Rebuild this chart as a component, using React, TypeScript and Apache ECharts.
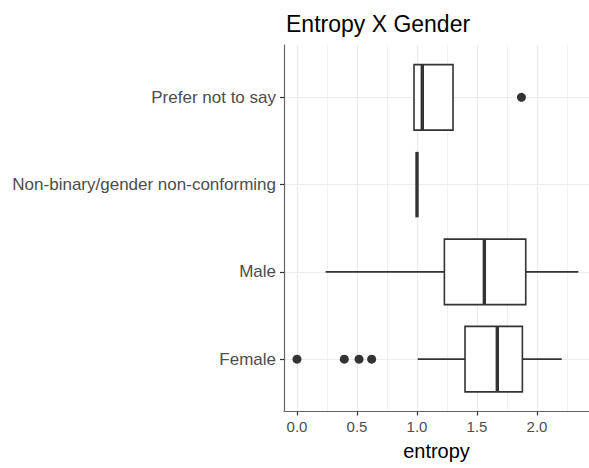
import React, { useEffect, useRef } from "react";
import * as echarts from "echarts";

const categories = [
  "Female",
  "Male",
  "Non-binary/gender non-conforming",
  "Prefer not to say",
];
const whiskerLow = [1.006, 0.239, 1.0, 0.975];
const q1 = [1.4, 1.228, 1.0, 0.975];
const median = [1.669, 1.561, 1.0, 1.044];
const q3 = [1.878, 1.906, 1.0, 1.3];
const whiskerHigh = [2.206, 2.344, 1.0, 1.3];
const outlierCategory = ["Female", "Female", "Female", "Female", "Prefer not to say"];
const outlierValue = [0.0, 0.394, 0.517, 0.622, 1.87];
const xMajorTicks = [0, 0.5, 1.0, 1.5, 2.0];
const xMinorTicks = [0.25, 0.75, 1.25, 1.75, 2.25];

const FONT = "Liberation Sans, Arial, Helvetica, sans-serif";

export default function App() {
  const ref = useRef<HTMLDivElement>(null);
  useEffect(() => {
    if (!ref.current) return;
    const chart = echarts.init(ref.current, undefined, { renderer: "svg" });
    const catPos = categories.map((_, i) => i + 1);
    const boxData = categories.map((_, i) => [
      catPos[i],
      whiskerLow[i],
      q1[i],
      median[i],
      q3[i],
      whiskerHigh[i],
    ]);
    const outData = outlierValue.map((v, i) => [
      v,
      categories.indexOf(outlierCategory[i]) + 1,
    ]);
    const gridLine = (w: number) => ({ color: "#ebebeb", width: w, type: "solid" });
    const markData = [
      ...xMajorTicks.map((v) => ({ xAxis: v, lineStyle: gridLine(1.2) })),
      ...xMinorTicks.map((v) => ({ xAxis: v, lineStyle: gridLine(0.7) })),
      ...catPos.map((v) => ({ yAxis: v, lineStyle: gridLine(1.2) })),
    ];
    const ink = "#333333";
    chart.setOption({
      animation: false,
      title: {
        text: "Entropy X Gender",
        left: 281,
        top: 7,
        textStyle: { fontFamily: FONT, fontWeight: "normal", fontSize: 23, color: "#000" },
      },
      grid: { left: 284, right: 0, top: 45, bottom: 56.5, containLabel: false },
      xAxis: {
        type: "value",
        min: -0.1083,
        max: 2.433,
        name: "entropy",
        nameLocation: "middle",
        nameGap: 29,
        nameTextStyle: { fontFamily: FONT, fontSize: 20, color: "#000" },
        axisLine: { show: true, onZero: false, lineStyle: { color: "#666666", width: 1.2 } },
        axisTick: {
          show: true,
          customValues: xMajorTicks,
          length: 4,
          lineStyle: { color: ink, width: 1.2 },
        },
        axisLabel: {
          customValues: xMajorTicks,
          margin: 7,
          fontFamily: FONT,
          fontSize: 15,
          color: "#4d4d4d",
          formatter: (v: number) => v.toFixed(1),
        },
        splitLine: { show: false },
        minorSplitLine: { show: false },
      },
      yAxis: {
        type: "value",
        min: 0.4,
        max: 4.6,
        axisLine: { show: true, onZero: false, lineStyle: { color: "#666666", width: 1.2 } },
        axisTick: {
          show: true,
          customValues: catPos,
          length: 4,
          lineStyle: { color: ink, width: 1.2 },
        },
        axisLabel: {
          customValues: catPos,
          margin: 8,
          fontFamily: FONT,
          fontSize: 17,
          color: "#4d4d4d",
          formatter: (v: number) => categories[Math.round(v) - 1] ?? "",
        },
        splitLine: { show: false },
      },
      series: [
        {
          type: "line",
          data: [],
          z: 0,
          silent: true,
          markLine: {
            z: 0,
            silent: true,
            symbol: ["none", "none"],
            label: { show: false },
            animation: false,
            data: markData,
          },
        },
        {
          type: "custom",
          z: 2,
          data: boxData,
          encode: { x: [1, 2, 3, 4, 5], y: 0 },
          renderItem: (_params: any, api: any) => {
            const y = api.value(0);
            const lo = api.coord([api.value(1), y]);
            const a = api.coord([api.value(2), y]);
            const m = api.coord([api.value(3), y]);
            const b = api.coord([api.value(4), y]);
            const hi = api.coord([api.value(5), y]);
            const h = Math.abs(api.size([0, 0.75])[1]);
            const lw = 1.6;
            const children: any[] = [];
            if (a[0] - lo[0] > 0.5) {
              children.push({
                type: "line",
                shape: { x1: lo[0], y1: lo[1], x2: a[0], y2: a[1] },
                style: { stroke: ink, lineWidth: lw },
              });
            }
            if (hi[0] - b[0] > 0.5) {
              children.push({
                type: "line",
                shape: { x1: b[0], y1: b[1], x2: hi[0], y2: hi[1] },
                style: { stroke: ink, lineWidth: lw },
              });
            }
            if (b[0] - a[0] > 0.5) {
              children.push({
                type: "rect",
                shape: { x: a[0], y: a[1] - h / 2, width: b[0] - a[0], height: h },
                style: { fill: "#ffffff", stroke: ink, lineWidth: lw },
              });
            }
            children.push({
              type: "line",
              shape: { x1: m[0], y1: m[1] - h / 2, x2: m[0], y2: m[1] + h / 2 },
              style: { stroke: ink, lineWidth: 3.4 },
            });
            return { type: "group", children };
          },
        },
        {
          type: "scatter",
          z: 3,
          data: outData,
          symbol: "circle",
          symbolSize: 9,
          itemStyle: { color: ink, opacity: 1 },
        },
      ],
    });
    return () => chart.dispose();
  }, []);
  return (
    <div
      ref={ref}
      style={{ position: "absolute", left: 0, top: 0, width: 589, height: 468 }}
    />
  );
}
